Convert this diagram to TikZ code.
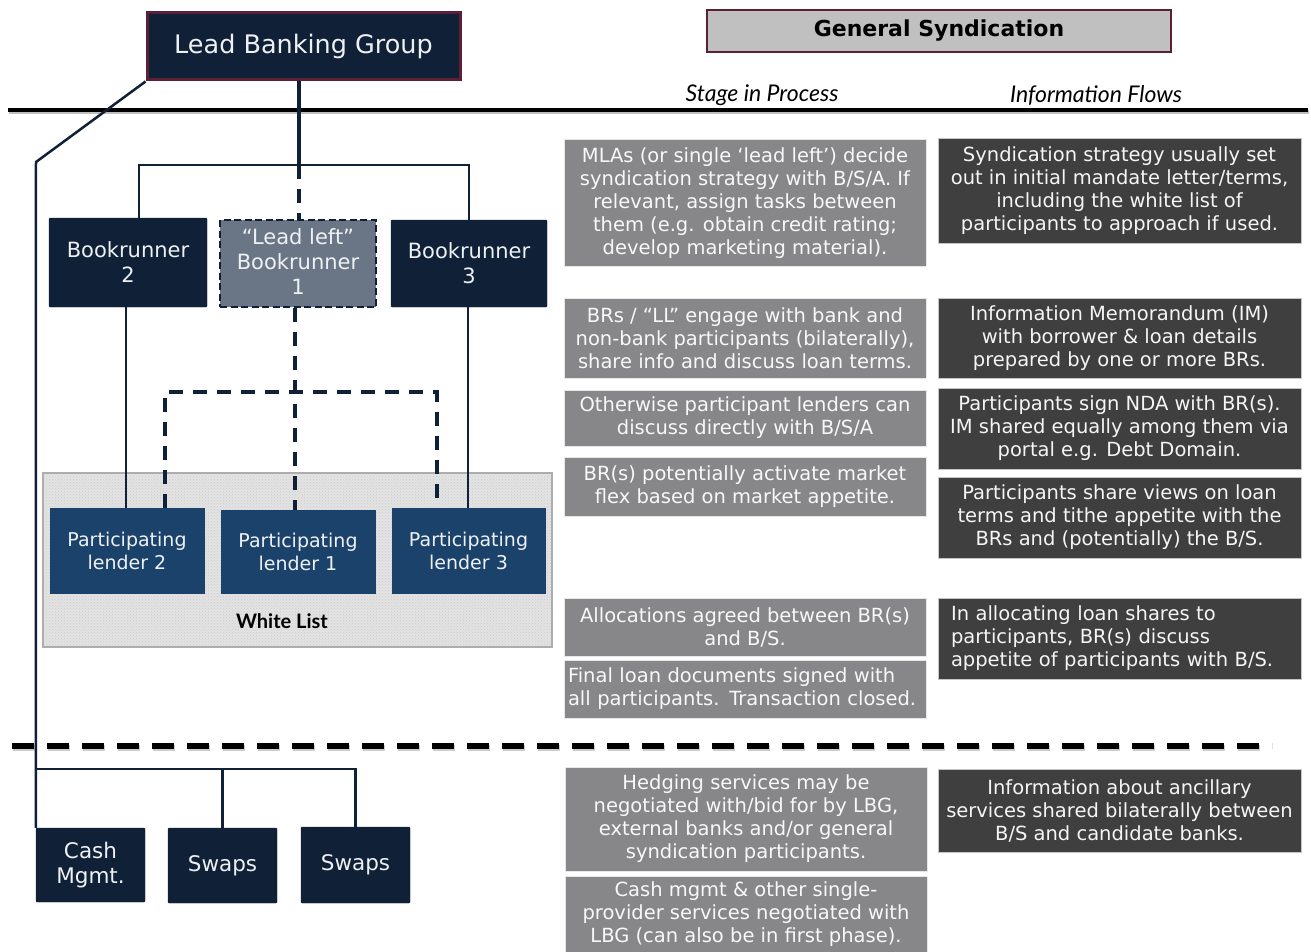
\documentclass[tikz,border=0pt]{standalone}
\usepackage{fontspec}
\setmainfont{DejaVu Sans}
\newfontfamily\condfont{DejaVu Sans}
\newfontfamily\boxfont{DejaVu Sans}
\newfontfamily\headfont{Lato}
\usetikzlibrary{patterns}
\definecolor{navy}{HTML}{0F2037}
\definecolor{plblue}{HTML}{1B426A}
\definecolor{llgray}{HTML}{6A7686}
\definecolor{maroon}{HTML}{5C1F35}
\definecolor{titlegray}{HTML}{C0C0C0}
\definecolor{stagegray}{HTML}{87878A}
\definecolor{infodark}{HTML}{3F3F3F}
\definecolor{wlgray}{HTML}{E3E3E3}
\definecolor{wlborder}{HTML}{ADADAD}
\definecolor{boxtext}{HTML}{EEF1F4}
\tikzset{
  sz/.style 2 args={minimum width=#1pt, minimum height=#2pt},
  navybox/.style={fill=navy, draw=navy, rounded corners=1pt, align=center, inner sep=0pt, text=boxtext, font=\boxfont\fontsize{21}{25}\selectfont},
  plbox/.style={navybox, fill=plblue, draw=plblue, rounded corners=0pt, font=\boxfont\fontsize{19}{23}\selectfont},
  llbox/.style={navybox, fill=llgray, draw=navy, line width=2.5pt, dash pattern=on 7pt off 3.5pt, rounded corners=0pt},
  stagebox/.style={fill=stagegray, draw=white!80!stagegray, line width=1pt, text=white!94!stagegray, align=center, inner sep=0pt, font=\condfont\fontsize{19.5}{23}\selectfont},
  infobox/.style={stagebox, fill=infodark, draw=white!70!infodark, text=white!95!infodark},
  link/.style={draw=navy, line width=2.5pt},
  dlink/.style={draw=navy, line width=4pt, dash pattern=on 14pt off 10pt},
}
\begin{document}
\begin{tikzpicture}[x=1pt,y=-1pt]
\useasboundingbox (0,0) rectangle (1311,952);
\fill[white] (0,0) rectangle (1311,952);

% separators
\draw[line width=4pt, gray!50] (9,112.5) -- (1309,112.5);
\draw[line width=4pt, black] (8,110) -- (1308,110);
\draw[line width=6pt, gray!40, dash pattern=on 22pt off 13pt] (13,748) -- (1273,748);
\draw[line width=6pt, black, dash pattern=on 22pt off 13pt] (12,746) -- (1272,746);

% headers
\node[fill=navy, draw=maroon, line width=3pt, sz={313}{67}, text=boxtext, font=\boxfont\fontsize{25.5}{29}\selectfont] (lbg) at (303.5,46.5) {Lead Banking Group};
\node[fill=titlegray, draw=maroon, line width=2.5pt, sz={464}{42}, font=\bfseries\fontsize{22}{26}\selectfont] (title) at (939,31) {General\hspace{0.35em}Syndication};
\node[font=\headfont\itshape\fontsize{23}{27}\selectfont] (hstage) at (762,95) {Stage in Process};
\node[font=\headfont\itshape\fontsize{23}{27}\selectfont] (hinfo) at (1096,95) {Information Flows};

% white list
\node[draw=wlborder, line width=1.5pt, preaction={fill=wlgray}, pattern=crosshatch dots, pattern color=gray!40, sz={509}{174}] (wl) at (297.5,560) {};
\node[font=\headfont\bfseries\fontsize{20}{24}\selectfont] (wltext) at (282,621) {White List};

% left tree nodes
\node[navybox, sz={158}{89}] (br2) at (128,262.5) {Bookrunner\\2};
\node[llbox, sz={156}{87}] (ll) at (298,263.5) {};
\node[text=boxtext, align=center, font=\boxfont\fontsize{21}{25}\selectfont] (lltext) at (298,262) {“Lead left”\\Bookrunner\\1};
\node[navybox, sz={156}{87}] (br3) at (469,263.5) {Bookrunner\\3};
\node[plbox, sz={154}{85}] (pl2) at (127,550.5) {Participating\\lender 2};
\node[plbox, sz={154}{83}] (pl1) at (298,551.5) {Participating\\lender 1};
\node[plbox, sz={153}{85}] (pl3) at (468.5,550.5) {Participating\\lender 3};
\node[navybox, sz={109}{74}, font=\boxfont\fontsize{21.5}{25}\selectfont] (cash) at (90.5,865) {Cash\\Mgmt.};
\node[navybox, sz={109}{75}, font=\boxfont\fontsize{21.5}{25}\selectfont] (sw1) at (222.5,865.5) {Swaps};
\node[navybox, sz={109}{76}, font=\boxfont\fontsize{21.5}{25}\selectfont] (sw2) at (355.5,865) {Swaps};

% connectors
\coordinate (jt) at (299,165);
\coordinate (dk) at (36,162);
\coordinate (jb) at (36,769);
\coordinate (jd) at (295,392);
\draw[draw=navy, line width=4pt] (lbg.south -| jt) -- (jt);
\draw[dlink] (jt) -- (ll.north -| jt);
\draw[link] ([xshift=11pt]br2.north) |- (jt) -| (br3.north);
\draw[link] (lbg.south west) -- (dk) -- (cash.north west);
\draw[link] (jb) -| (sw2.north);
\draw[link] (sw1.north |- jb) -- (sw1.north);
\draw[dlink] ([xshift=-3pt]ll.south) -- ([xshift=-3pt]pl1.north);
\draw[dlink] ([xshift=38pt]pl2.north) |- (jd) -| ([xshift=-31.5pt]pl3.north);
\draw[link] ([xshift=-2pt]br2.south) -- ([xshift=-1pt]pl2.north);
\draw[link] ([xshift=-1pt]br3.south) -- ([xshift=-0.5pt]pl3.north);

% stage column
\node[stagebox, sz={362}{126}] (s1) at (745,203) {MLAs (or single ‘lead left’) decide\\syndication strategy with B/S/A. If\\relevant, assign tasks between\\them (e.g. obtain credit rating;\\develop marketing material).};
\node[stagebox, sz={362}{80}] (s2) at (745,338) {BRs / “LL” engage with bank and\\non-bank participants (bilaterally),\\share info and discuss loan terms.};
\node[stagebox, sz={362}{56}] (s3) at (745,418) {Otherwise participant lenders can\\discuss directly with B/S/A};
\node[stagebox, sz={362}{59}] (s4) at (745,486.5) {BR(s) potentially activate market\\flex based on market appetite.};
\node[stagebox, sz={362}{58}] (s5) at (745,627) {Allocations agreed between BR(s)\\and B/S.};
\node[stagebox, sz={362}{58}, align=left, text width=354pt] (s6) at (745,689) {Final loan documents signed with\\all participants. Transaction closed.};
\node[stagebox, sz={362}{104}] (s7) at (746,819) {Hedging services may be\\negotiated with/bid for by LBG,\\external banks and/or general\\syndication participants.};
\node[stagebox, sz={362}{76}] (s8) at (746,914) {Cash mgmt \& other single-\\provider services negotiated with\\LBG (can also be in first phase).};

% info column
\node[infobox, sz={363}{104}] (i1) at (1119.5,191) {Syndication strategy usually set\\out in initial mandate letter/terms,\\including the white list of\\participants to approach if used.};
\node[infobox, sz={363}{80}] (i2) at (1119.5,338) {Information Memorandum (IM)\\with borrower \& loan details\\prepared by one or more BRs.};
\node[infobox, sz={363}{81}] (i3) at (1119.5,428.5) {Participants sign NDA with BR(s).\\IM shared equally among them via\\portal e.g. Debt Domain.};
\node[infobox, sz={363}{81}] (i4) at (1119.5,517.5) {Participants share views on loan\\terms and tithe appetite with the\\BRs and (potentially) the B/S.};
\node[infobox, sz={363}{81}, align=left, text width=337pt] (i5) at (1119.5,638.5) {In allocating loan shares to\\participants, BR(s) discuss\\appetite of participants with B/S.};
\node[infobox, sz={363}{83}] (i6) at (1119.5,810.5) {Information about ancillary\\services shared bilaterally between\\B/S and candidate banks.};
\end{tikzpicture}
\end{document}
